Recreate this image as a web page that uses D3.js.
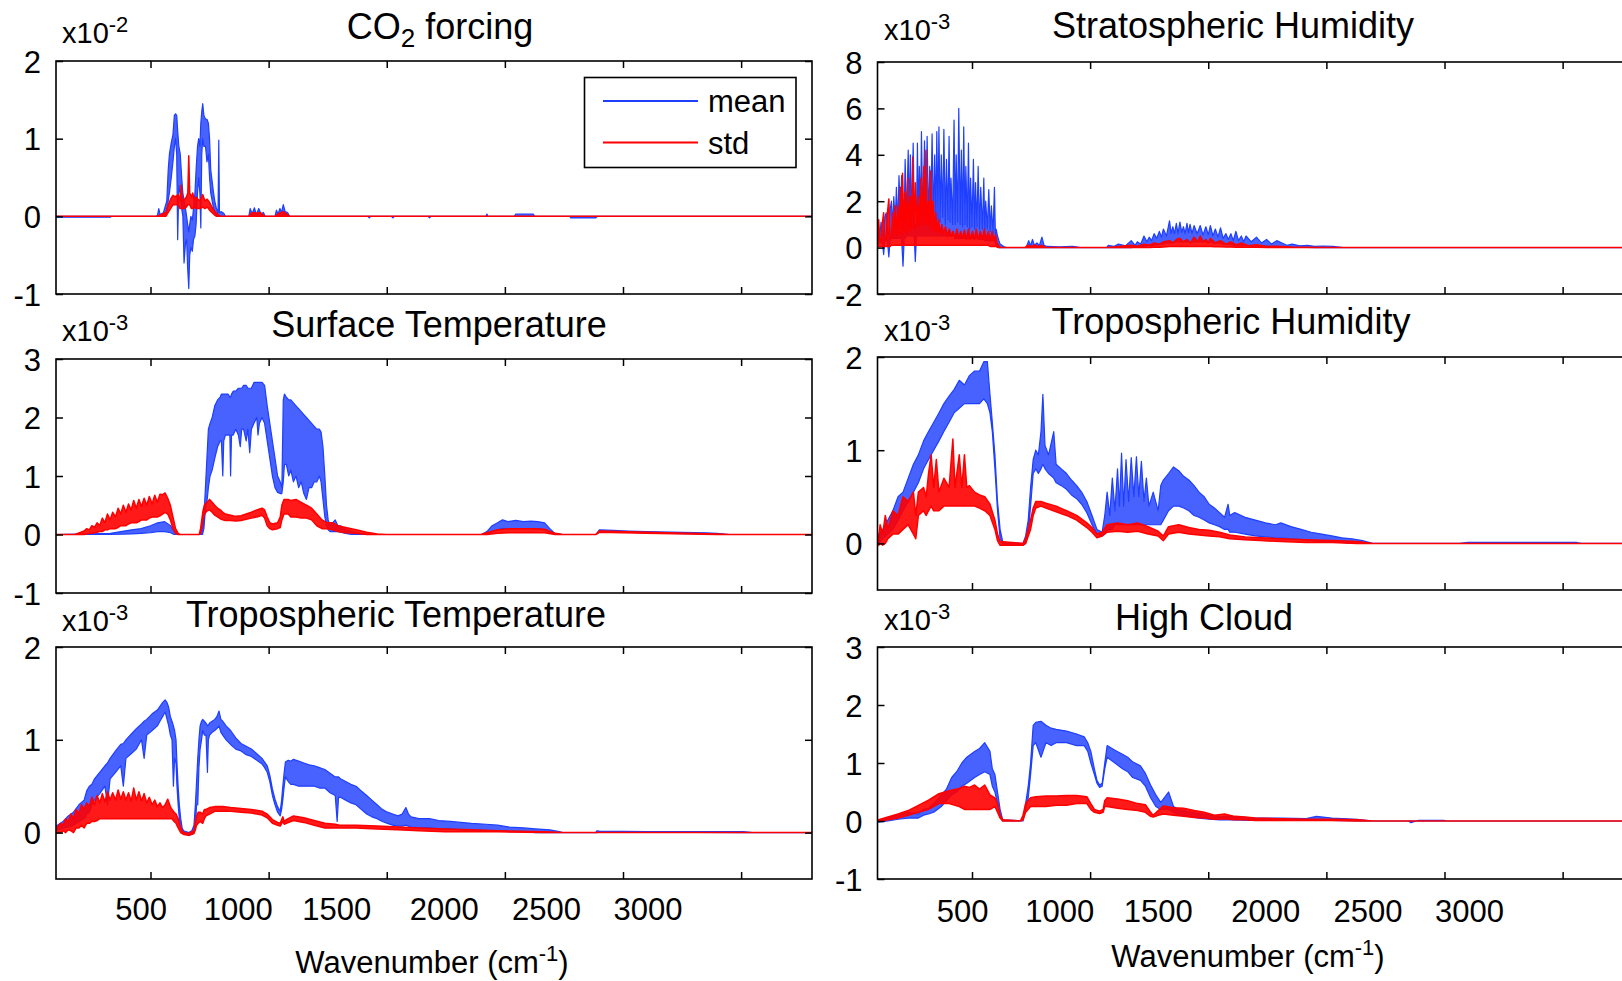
<!DOCTYPE html>
<html><head><meta charset="utf-8">
<script src="https://cdn.jsdelivr.net/npm/d3@7"></script>
<style>
body{margin:0;background:#fff}
svg{display:block}
text{font-family:"Liberation Sans",Arial,Helvetica,sans-serif;fill:#000}
</style>
</head><body>
<svg id="c" width="1622" height="981"></svg>
<script>
// ---------------- DATA ----------------
// x axis (wavenumber, cm-1)
const xDomain = [100, 3300];
const xTickValues = [500, 1000, 1500, 2000, 2500, 3000];
const xTickLabels = ["500", "1000", "1500", "2000", "2500", "3000"];
const xTickLabelPos = [460, 871, 1288, 1743, 2176, 2606]; // where the (offset) labels sit, in cm-1
const legendLabels = ["mean", "std"];
const panelTitles = ["CO_2 forcing", "Surface Temperature", "Tropospheric Temperature",
                     "Stratospheric Humidity", "Tropospheric Humidity", "High Cloud"];
const panelExponents = ["-2", "-3", "-3", "-3", "-3", "-3"];
const yDomains = [[-1, 2], [-1, 3], [-0.5, 2], [-2, 8], [-0.5, 2], [-1, 3]];
const yTicks = [[-1, 0, 1, 2], [-1, 0, 1, 2, 3], [0, 1, 2], [-2, 0, 2, 4, 6, 8], [0, 1, 2], [-1, 0, 1, 2, 3]];

// each series: [wavenumber, low, high] envelope of the dense spectrum (units of the panel exponent)
const co2Mean = [[100,-0.012,0],[330,-0.012,0],[335,0,0],[525,0,0],[530,0,0.02],[535,0,0.1],[541,0,0.02],[555,0,0.05],[569,0.05,0.2],[575,0.2,0.6],[580,0.3,0.8],[588,0.5,0.95],[595,0.7,1.05],[601,0.9,1.3],[606,1.0,1.32],[611,0.8,1.3],[615,-0.3,1.1],[620,0.4,0.9],[626,0.3,0.8],[632,0.1,0.5],[637,0.0,0.3],[642,-0.6,0.2],[648,-0.35,0.1],[653,-0.3,0.0],[657,-0.65,-0.1],[662,-0.93,-0.2],[666,-0.5,-0.1],[671,-0.4,0.0],[677,-0.45,-0.05],[682,-0.3,0.1],[688,-0.25,0.3],[693,-0.1,0.6],[699,0.3,0.9],[704,0.5,1.0],[709,0.3,0.9],[713,-0.15,1.2],[717,0.8,1.35],[721,1.0,1.45],[726,0.9,1.3],[733,0.9,1.25],[739,0.7,1.25],[745,0.8,1.2],[750,0.5,1.0],[755,0.3,0.6],[761,0.2,0.45],[767,0.1,0.3],[772,0.05,0.2],[779,0,0.1],[786,0,0.05],[789,0,0.98],[792,0,0.05],[800,0,0.06],[810,0,0.04],[817,0,0],[916,0,0],[922,0,0.1],[930,0,0.03],[940,0,0.11],[948,0,0.02],[958,0,0.1],[968,0,0.03],[978,0,0.05],[985,0,0],[1027,0,0],[1033,0,0.08],[1040,0,0.03],[1048,0,0.1],[1055,0,0.05],[1062,0,0.15],[1070,0,0.06],[1080,0,0.05],[1089,0,0],[1420,0,0],[1426,-0.02,0],[1432,0,0],[1520,0,0],[1526,-0.02,0],[1532,0,0],[1675,0,0],[1681,-0.02,0],[1687,0,0],[1920,0,0],[1924,0,0.03],[1928,0,0],[2040,0,0],[2046,0,0.03],[2120,0,0.03],[2126,0,0],[2275,0,0],[2279,-0.02,0],[2385,-0.02,0],[2392,0,0],[3300,0,0]];
const co2Std = [[100,0,0],[529,0,0],[550,0,0.03],[565,0,0.05],[575,0.05,0.15],[585,0.1,0.22],[595,0.15,0.27],[605,0.15,0.25],[617,0.15,0.28],[625,0.1,0.2],[630,0.1,0.4],[636,0.1,0.2],[644,0.1,0.22],[652,0.12,0.25],[658,0.15,0.3],[662,0.15,0.78],[666,0.15,0.3],[673,0.1,0.25],[679,0.1,0.3],[686,0.12,0.2],[693,0.1,0.25],[700,0.1,0.22],[710,0.1,0.2],[721,0.12,0.28],[730,0.1,0.2],[740,0.12,0.22],[750,0.08,0.18],[760,0.05,0.12],[770,0.02,0.07],[780,0,0.04],[795,0,0],[916,0,0],[930,0,0.05],[950,0,0.04],[965,0,0.05],[983,0,0],[1027,0,0],[1045,0,0.04],[1062,0,0.06],[1080,0,0.02],[1089,0,0],[3300,0,0]];

const stMean = [[100,0,0],[330,0,0.02],[420,0.01,0.08],[460,0.02,0.1],[500,0.03,0.15],[530,0.05,0.2],[560,0.05,0.22],[585,0.03,0.15],[600,0,0.05],[620,0,0],[713,0,0],[720,0,0.1],[726,0.1,0.3],[730,0.3,0.6],[735,0.5,1.0],[740,0.6,1.4],[745,0.8,1.8],[752,1.0,1.9],[761,1.1,2.0],[772,1.3,2.2],[784,1.5,2.3],[795,1.6,2.35],[800,1.6,2.4],[806,1.0,2.4],[810,1.6,2.4],[817,1.7,2.4],[828,1.7,2.4],[836,1.7,2.35],[839,1.0,2.35],[843,1.7,2.4],[850,1.7,2.45],[861,1.8,2.45],[872,1.7,2.5],[880,1.5,2.5],[886,1.8,2.5],[894,1.8,2.55],[905,1.6,2.55],[912,1.8,2.5],[920,1.4,2.5],[927,1.8,2.5],[938,1.9,2.6],[950,2.0,2.6],[955,1.7,2.6],[961,1.9,2.6],[972,2.0,2.6],[983,1.9,2.55],[994,1.6,2.2],[1005,1.3,1.9],[1016,1.0,1.6],[1027,0.8,1.3],[1038,0.72,1.0],[1049,0.7,0.9],[1056,0.7,0.8],[1062,0.9,2.3],[1067,1.2,2.4],[1075,1.2,2.35],[1085,1.0,2.3],[1094,1.1,2.3],[1105,0.9,2.25],[1116,1.0,2.2],[1127,0.8,2.15],[1138,0.9,2.1],[1149,0.7,2.05],[1160,0.6,2.0],[1171,0.8,1.95],[1182,0.8,1.9],[1193,0.9,1.85],[1204,0.9,1.8],[1215,1.0,1.8],[1222,0.9,1.75],[1230,0.6,1.5],[1238,0.3,1.0],[1245,0.15,0.5],[1252,0.08,0.25],[1260,0.05,0.15],[1271,0.05,0.2],[1282,0.05,0.25],[1293,0.05,0.15],[1304,0.04,0.15],[1326,0.02,0.08],[1350,0,0.05],[1370,0,0.03],[1415,0,0],[1900,0,0],[1924,0,0.05],[1946,0.05,0.15],[1969,0.08,0.2],[1990,0.1,0.25],[2013,0.1,0.22],[2046,0.1,0.24],[2079,0.1,0.22],[2110,0.1,0.23],[2140,0.1,0.22],[2168,0.08,0.2],[2190,0.04,0.1],[2212,0,0.02],[2245,0,0],[2385,0,0],[2400,0.04,0.08],[2460,0.05,0.07],[2522,0.04,0.06],[2600,0.03,0.05],[2700,0.02,0.04],[2850,0.01,0.03],[2899,0,0.02],[2950,0,0],[3300,0,0]];
const stStd = [[100,0,0],[180,0,0],[200,0,0.03],[219,0,0.06],[230,0.01,0.1],[241,0.02,0.08],[252,0.02,0.15],[263,0.03,0.12],[274,0.04,0.2],[285,0.05,0.15],[296,0.05,0.28],[307,0.08,0.2],[318,0.08,0.35],[329,0.1,0.25],[340,0.1,0.38],[352,0.1,0.3],[363,0.12,0.45],[374,0.15,0.35],[385,0.15,0.5],[396,0.15,0.38],[407,0.18,0.52],[418,0.2,0.42],[429,0.2,0.58],[440,0.2,0.45],[451,0.22,0.6],[462,0.25,0.48],[473,0.25,0.62],[484,0.25,0.5],[495,0.28,0.65],[507,0.3,0.52],[518,0.3,0.67],[529,0.3,0.55],[540,0.32,0.69],[551,0.35,0.68],[562,0.38,0.71],[573,0.35,0.62],[584,0.25,0.5],[595,0.1,0.3],[606,0.02,0.1],[617,0,0.02],[625,0,0],[706,0,0],[712,0.02,0.1],[717,0.1,0.25],[722,0.25,0.4],[728,0.35,0.5],[739,0.4,0.55],[750,0.42,0.6],[761,0.38,0.55],[772,0.33,0.5],[784,0.3,0.45],[795,0.27,0.42],[806,0.25,0.38],[817,0.24,0.35],[839,0.24,0.33],[861,0.23,0.31],[883,0.24,0.32],[905,0.26,0.35],[927,0.28,0.38],[950,0.3,0.42],[972,0.33,0.45],[983,0.28,0.42],[994,0.15,0.3],[1005,0.1,0.2],[1016,0.08,0.18],[1038,0.1,0.2],[1049,0.12,0.3],[1056,0.25,0.5],[1065,0.35,0.6],[1083,0.35,0.6],[1094,0.3,0.58],[1116,0.3,0.6],[1138,0.28,0.55],[1160,0.28,0.5],[1182,0.25,0.45],[1204,0.15,0.35],[1226,0.1,0.25],[1249,0.1,0.2],[1271,0.08,0.2],[1293,0.05,0.15],[1326,0.03,0.12],[1370,0.02,0.08],[1415,0,0.04],[1460,0,0.01],[1500,0,0],[1900,0,0],[1924,0,0.03],[1969,0.02,0.08],[2020,0.03,0.1],[2079,0.03,0.1],[2130,0.03,0.1],[2168,0.03,0.09],[2212,0,0.02],[2245,0,0],[2385,0,0],[2400,0.04,0.06],[2600,0.02,0.04],[2899,0,0.01],[2950,0,0],[3300,0,0]];

const ttMean = [[100,0.02,0.07],[130,0.05,0.12],[152,0.06,0.18],[174,0.08,0.22],[197,0.12,0.3],[219,0.15,0.35],[230,0.2,0.45],[241,0.22,0.5],[252,0.3,0.52],[263,0.35,0.58],[285,0.42,0.65],[307,0.5,0.72],[318,0.3,0.75],[329,0.58,0.8],[352,0.65,0.88],[374,0.72,0.95],[385,0.5,0.96],[396,0.8,1.0],[418,0.85,1.06],[440,0.9,1.12],[462,1.0,1.17],[473,0.8,1.2],[484,1.05,1.22],[507,1.1,1.28],[529,1.15,1.32],[540,1.2,1.36],[551,1.25,1.4],[562,1.3,1.43],[570,1.22,1.4],[577,1.15,1.35],[584,1.05,1.25],[591,1.0,1.2],[597,0.5,1.15],[602,0.8,1.1],[608,0.75,1.0],[612,0.5,0.75],[617,0.3,0.5],[622,0.15,0.3],[628,0.05,0.15],[634,0,0.05],[640,-0.01,0.02],[662,-0.03,0.0],[675,-0.02,0.02],[684,0,0.08],[690,0.05,0.3],[695,0.3,0.55],[700,0.3,0.8],[705,0.7,1.0],[710,0.9,1.15],[716,1.0,1.2],[721,1.1,1.22],[728,1.05,1.2],[735,1.05,1.18],[741,0.65,1.15],[745,1.0,1.16],[750,1.05,1.18],[761,1.08,1.2],[772,1.1,1.22],[781,1.12,1.25],[790,1.15,1.31],[798,1.08,1.22],[806,1.05,1.2],[820,1.0,1.15],[839,0.95,1.1],[861,0.9,1.02],[883,0.88,0.96],[905,0.84,0.93],[927,0.82,0.9],[950,0.78,0.85],[972,0.74,0.8],[983,0.7,0.76],[994,0.65,0.72],[1005,0.55,0.62],[1016,0.4,0.47],[1027,0.3,0.36],[1038,0.22,0.28],[1049,0.18,0.23],[1055,0.25,0.35],[1060,0.35,0.5],[1066,0.5,0.65],[1071,0.6,0.76],[1083,0.55,0.78],[1094,0.52,0.77],[1105,0.52,0.79],[1127,0.5,0.77],[1149,0.5,0.75],[1171,0.5,0.73],[1193,0.5,0.72],[1215,0.48,0.7],[1238,0.48,0.68],[1260,0.43,0.64],[1282,0.4,0.6],[1290,0.12,0.6],[1296,0.38,0.6],[1304,0.38,0.58],[1326,0.35,0.55],[1348,0.32,0.52],[1370,0.3,0.5],[1392,0.25,0.45],[1415,0.2,0.4],[1437,0.17,0.35],[1459,0.15,0.3],[1481,0.12,0.25],[1503,0.1,0.22],[1525,0.08,0.2],[1548,0.07,0.18],[1565,0.07,0.2],[1581,0.08,0.27],[1592,0.07,0.2],[1603,0.06,0.17],[1636,0.05,0.15],[1681,0.05,0.15],[1720,0.04,0.13],[1770,0.04,0.12],[1813,0.03,0.11],[1858,0.03,0.1],[1920,0.02,0.09],[1969,0.02,0.08],[2020,0.01,0.06],[2079,0.01,0.05],[2130,0,0.04],[2190,0,0.03],[2230,0,0.01],[2245,0,0],[2385,0,0],[2389,0,0.02],[2400,0.005,0.015],[2600,0.005,0.012],[3010,0,0.01],[3050,0,0],[3300,0,0]];
const ttStd = [[100,0,0.04],[120,0,0.1],[130,0.02,0.08],[141,0,0.15],[152,0.03,0.12],[163,0.02,0.2],[174,0,0.15],[185,0.05,0.25],[197,0.05,0.2],[208,0.08,0.3],[219,0.05,0.25],[230,0.1,0.32],[241,0.1,0.28],[252,0.12,0.38],[263,0.12,0.3],[274,0.13,0.4],[285,0.15,0.32],[296,0.15,0.42],[307,0.15,0.33],[318,0.15,0.44],[329,0.15,0.35],[340,0.15,0.43],[352,0.15,0.35],[363,0.15,0.46],[374,0.15,0.36],[385,0.15,0.44],[396,0.15,0.35],[407,0.15,0.43],[418,0.15,0.34],[429,0.15,0.48],[440,0.15,0.35],[451,0.15,0.44],[462,0.15,0.34],[473,0.15,0.42],[484,0.15,0.32],[495,0.15,0.38],[507,0.15,0.3],[518,0.15,0.35],[529,0.15,0.28],[540,0.15,0.32],[551,0.15,0.27],[562,0.15,0.3],[573,0.15,0.36],[584,0.15,0.28],[591,0.15,0.25],[600,0.12,0.22],[608,0.1,0.2],[617,0.05,0.15],[628,0,0.05],[640,-0.02,0],[662,-0.03,-0.01],[684,-0.01,0.02],[690,0.03,0.12],[695,0.08,0.18],[702,0.1,0.22],[710,0.12,0.22],[721,0.1,0.2],[728,0.15,0.25],[735,0.18,0.25],[750,0.2,0.27],[772,0.23,0.28],[806,0.23,0.28],[839,0.23,0.27],[883,0.22,0.26],[927,0.21,0.25],[972,0.19,0.23],[994,0.16,0.2],[1005,0.13,0.17],[1016,0.1,0.14],[1038,0.08,0.11],[1049,0.07,0.1],[1060,0.12,0.17],[1066,0.09,0.12],[1075,0.1,0.14],[1105,0.13,0.18],[1149,0.11,0.16],[1193,0.08,0.13],[1238,0.05,0.1],[1282,0.05,0.09],[1300,0.05,0.08],[1370,0.05,0.08],[1459,0.04,0.07],[1548,0.03,0.06],[1636,0.02,0.05],[1747,0.01,0.04],[1858,0.01,0.03],[1969,0.01,0.02],[2168,0,0.01],[2245,0,0],[3300,0,0]];

const shMean = [[100,0.3,0.6],[105,0.3,0.8],[110,0.2,0.5],[115,0.3,1.1],[120,0.3,0.6],[126,-0.3,0.5],[131,0.3,1.3],[137,0.3,1.5],[142,0.3,0.7],[148,-0.4,0.6],[153,0.3,1.6],[159,0.4,2.0],[164,0.4,0.9],[169,0.4,2.2],[175,0.4,1.0],[180,0.4,2.6],[186,0.4,1.0],[191,0.4,3.1],[197,0.4,1.2],[202,0.4,3.1],[208,-0.8,0.8],[213,0.4,1.3],[217,0.4,3.8],[223,0.5,1.2],[230,0.5,4.2],[235,0.5,1.3],[239,0.5,4.0],[245,0.5,1.2],[251,0.5,4.5],[256,0.4,1.0],[260,-0.6,0.8],[265,0.5,1.3],[269,0.5,4.5],[273,0.5,1.2],[277,0.5,3.5],[282,0.5,1.4],[286,0.5,5.0],[292,0.5,1.2],[299,0.5,4.6],[305,0.5,1.3],[310,0.5,4.8],[316,0.5,1.1],[321,0.5,3.5],[326,0.5,1.4],[331,0.5,4.9],[337,0.5,1.2],[342,0.5,4.0],[347,0.5,1.3],[351,0.5,5.0],[356,0.5,1.2],[360,0.5,5.2],[365,0.5,1.1],[370,0.5,4.0],[376,0.5,1.3],[381,0.5,5.1],[387,0.5,1.0],[392,0.5,3.8],[398,0.5,1.2],[403,0.5,4.8],[407,0.5,1.1],[411,0.5,3.0],[418,0.5,1.0],[424,0.5,5.5],[429,0.4,1.0],[433,0.4,4.0],[439,0.4,1.1],[444,0.4,6.0],[450,0.4,1.0],[455,0.4,4.2],[460,0.4,0.9],[465,0.4,5.2],[470,0.4,1.0],[474,0.4,3.5],[480,0.4,0.9],[485,0.4,4.5],[490,0.4,0.8],[494,0.4,3.0],[500,0.4,0.9],[506,0.4,3.8],[511,0.4,0.8],[515,0.4,2.8],[521,0.4,0.9],[526,0.4,3.5],[532,0.35,0.8],[537,0.35,2.6],[544,0.35,0.8],[550,0.35,3.0],[554,0.3,0.7],[558,0.3,2.0],[565,0.3,0.8],[571,0.3,2.5],[577,0.3,0.7],[582,0.3,1.8],[589,0.3,0.6],[595,0.3,2.6],[599,0.2,0.5],[602,0.1,0.8],[608,0.05,0.5],[614,0,0.3],[619,0,0.15],[634,0,0.05],[645,0,0],[725,0,0],[731,0,0.05],[740,0,0.3],[748,0,0.08],[756,0,0.35],[764,0,0.1],[775,0,0.2],[785,0,0.08],[796,0,0.45],[805,0,0.1],[818,0,0.05],[870,0,0.03],[926,0,0.05],[960,0,0],[1070,0,0],[1077,0,0.1],[1100,0,0.05],[1120,0,0.15],[1150,0,0.08],[1174,0,0.3],[1190,0.02,0.1],[1200,0.05,0.25],[1214,0.05,0.15],[1228,0.05,0.5],[1240,0.08,0.25],[1250,0.1,0.45],[1260,0.1,0.3],[1271,0.1,0.6],[1282,0.12,0.4],[1293,0.15,0.7],[1302,0.15,0.45],[1310,0.15,0.8],[1323,0.2,0.5],[1336,0.2,1.15],[1343,0.2,0.6],[1350,0.2,0.9],[1357,0.25,0.6],[1365,0.25,1.05],[1372,0.25,0.6],[1380,0.25,1.1],[1388,0.25,0.65],[1395,0.25,0.9],[1402,0.25,0.6],[1410,0.25,1.05],[1416,0.25,0.65],[1423,0.25,1.0],[1431,0.25,0.6],[1440,0.25,0.95],[1453,0.25,0.6],[1466,0.25,0.95],[1478,0.25,0.55],[1490,0.25,0.9],[1500,0.2,0.55],[1509,0.25,0.95],[1520,0.2,0.5],[1530,0.2,0.8],[1541,0.2,0.45],[1552,0.2,0.85],[1563,0.15,0.4],[1575,0.15,0.6],[1585,0.15,0.35],[1596,0.15,0.6],[1606,0.1,0.3],[1617,0.1,0.7],[1628,0.1,0.3],[1640,0.1,0.5],[1650,0.1,0.25],[1660,0.1,0.5],[1682,0.07,0.25],[1704,0.05,0.45],[1725,0.05,0.2],[1747,0.05,0.35],[1768,0.04,0.15],[1790,0.03,0.3],[1812,0.03,0.2],[1833,0.02,0.1],[1855,0.02,0.15],[1888,0.01,0.08],[1920,0.01,0.1],[1950,0,0.05],[1985,0,0.07],[2028,0,0.05],[2071,0,0],[3300,0,0]];
const shStd = [[100,0.05,0.8],[105,0.05,1.2],[110,0.05,0.3],[115,0.05,0.2],[120,0.05,1.0],[126,0.05,1.5],[131,0.05,0.4],[137,0.05,0.3],[142,0.05,1.5],[148,0.05,2.1],[153,0.05,0.5],[159,0.1,0.4],[164,0.1,1.5],[169,0.1,0.6],[175,0.1,1.8],[180,0.1,0.5],[186,0.1,1.8],[191,0.1,0.6],[197,0.1,2.6],[202,0.1,0.5],[206,0.1,3.2],[212,0.1,0.7],[217,0.1,2.4],[222,0.1,0.6],[228,0.1,3.0],[234,0.1,0.7],[239,0.1,2.2],[244,0.1,0.8],[249,0.1,3.9],[255,0.1,0.8],[260,0.1,2.8],[266,0.1,0.9],[272,0.1,2.2],[278,0.1,0.9],[284,0.1,3.0],[290,0.1,1.0],[296,0.1,3.5],[300,0.1,1.0],[305,0.1,4.2],[310,0.1,1.0],[316,0.1,2.0],[320,0.1,0.9],[325,0.1,3.3],[331,0.1,0.8],[336,0.1,2.0],[342,0.1,0.7],[347,0.1,1.5],[352,0.1,0.7],[358,0.1,1.2],[365,0.1,0.6],[372,0.1,1.0],[380,0.1,0.6],[388,0.1,0.9],[396,0.1,0.5],[404,0.1,0.8],[412,0.1,0.5],[420,0.1,0.7],[428,0.1,0.4],[436,0.1,0.8],[444,0.1,0.4],[452,0.1,0.7],[460,0.1,0.4],[468,0.1,0.75],[476,0.1,0.35],[485,0.1,0.8],[493,0.1,0.35],[502,0.1,0.7],[510,0.1,0.35],[518,0.1,0.8],[526,0.1,0.35],[535,0.1,0.7],[543,0.1,0.35],[552,0.1,0.8],[560,0.1,0.35],[569,0.1,0.7],[577,0.05,0.3],[585,0.05,0.7],[593,0.05,0.3],[600,0.05,0.55],[606,0.02,0.2],[612,0,0.1],[619,0,0.02],[630,0,0],[725,0,0],[735,0,0.1],[750,0,0.05],[765,0,0.12],[780,0,0.04],[796,0,0.1],[810,0,0.02],[820,0,0],[1070,0,0],[1100,0,0.03],[1174,0,0.1],[1200,0,0.06],[1228,0,0.15],[1250,0,0.1],[1271,0.02,0.2],[1293,0.02,0.15],[1310,0.03,0.25],[1336,0.05,0.3],[1350,0.05,0.2],[1365,0.05,0.35],[1380,0.05,0.4],[1395,0.05,0.25],[1410,0.05,0.35],[1425,0.05,0.2],[1440,0.05,0.45],[1455,0.05,0.25],[1466,0.05,0.5],[1478,0.05,0.25],[1490,0.05,0.35],[1500,0.05,0.2],[1509,0.05,0.4],[1530,0.04,0.2],[1552,0.04,0.3],[1575,0.03,0.15],[1596,0.03,0.25],[1620,0.02,0.12],[1640,0.02,0.2],[1670,0.01,0.08],[1704,0.01,0.12],[1750,0,0.05],[1790,0,0.06],[1850,0,0.03],[1900,0,0.02],[2000,0,0],[3300,0,0]];

const thMean = [[105,0,0.1],[122,0.05,0.15],[144,0.1,0.25],[165,0.15,0.35],[187,0.25,0.5],[208,0.35,0.55],[230,0.45,0.7],[252,0.55,0.85],[273,0.65,0.95],[295,0.8,1.1],[316,0.9,1.2],[338,1.0,1.3],[360,1.1,1.4],[381,1.2,1.5],[403,1.3,1.58],[424,1.4,1.65],[446,1.45,1.75],[468,1.5,1.7],[489,1.5,1.8],[511,1.5,1.85],[532,1.5,1.85],[550,1.55,1.95],[565,1.5,1.95],[576,1.4,1.6],[586,1.2,1.3],[597,0.8,0.95],[608,0.35,0.45],[619,0.05,0.15],[630,0,0.02],[640,-0.02,0],[716,-0.02,0],[727,0,0.08],[738,0.1,0.25],[748,0.4,0.6],[759,0.75,0.9],[770,0.8,1.0],[781,0.75,0.95],[792,0.8,1.2],[800,0.85,1.6],[809,0.8,1.05],[824,0.75,0.95],[846,0.7,1.2],[856,0.65,0.85],[878,0.62,0.8],[900,0.58,0.75],[921,0.52,0.68],[943,0.48,0.62],[964,0.42,0.55],[986,0.33,0.45],[1008,0.2,0.3],[1029,0.1,0.15],[1051,0.08,0.12],[1062,0.1,0.3],[1072,0.15,0.55],[1083,0.15,0.3],[1094,0.15,0.7],[1105,0.2,0.35],[1116,0.2,0.8],[1124,0.2,0.4],[1133,0.2,0.97],[1142,0.2,0.4],[1152,0.2,0.9],[1163,0.2,0.45],[1174,0.2,0.92],[1185,0.2,0.5],[1196,0.2,0.93],[1206,0.2,0.5],[1217,0.2,0.88],[1228,0.2,0.45],[1238,0.2,0.7],[1249,0.2,0.4],[1267,0.2,0.55],[1288,0.2,0.35],[1299,0.2,0.62],[1310,0.25,0.68],[1332,0.35,0.75],[1353,0.4,0.82],[1375,0.4,0.78],[1396,0.38,0.72],[1418,0.35,0.68],[1440,0.3,0.62],[1461,0.28,0.55],[1483,0.25,0.5],[1504,0.22,0.42],[1526,0.2,0.38],[1548,0.18,0.33],[1569,0.15,0.28],[1584,0.15,0.42],[1591,0.12,0.3],[1612,0.12,0.33],[1656,0.1,0.28],[1699,0.08,0.25],[1742,0.07,0.22],[1785,0.06,0.2],[1807,0.06,0.22],[1850,0.05,0.18],[1893,0.04,0.15],[1936,0.03,0.12],[1980,0.02,0.1],[2023,0.01,0.08],[2066,0.01,0.06],[2109,0,0.05],[2152,0,0.03],[2196,0,0],[2563,0,0],[2600,0,0.01],[3060,0,0.01],[3080,0,0],[3300,0,0]];
const thStd = [[105,-0.02,0.05],[111,0,0.2],[122,-0.02,0.1],[133,0,0.3],[144,0.05,0.15],[165,0.1,0.35],[187,0.1,0.3],[208,0.15,0.5],[230,0.2,0.45],[252,0.1,0.55],[262,0.05,0.3],[273,0.3,0.55],[295,0.35,0.6],[306,0.3,0.5],[316,0.35,0.75],[327,0.4,0.95],[338,0.35,0.6],[349,0.35,0.9],[360,0.35,0.55],[381,0.4,0.7],[403,0.4,0.6],[419,0.4,1.12],[428,0.4,0.6],[446,0.4,0.95],[457,0.4,0.6],[468,0.4,0.95],[478,0.4,0.6],[489,0.4,0.62],[511,0.4,0.55],[532,0.38,0.52],[554,0.35,0.5],[576,0.3,0.42],[597,0.15,0.25],[608,0.03,0.1],[619,-0.02,0.02],[716,-0.02,0],[727,0,0.05],[748,0.15,0.25],[759,0.3,0.38],[770,0.38,0.45],[792,0.4,0.45],[813,0.38,0.43],[856,0.34,0.4],[900,0.3,0.35],[943,0.25,0.3],[986,0.17,0.22],[1008,0.12,0.17],[1029,0.06,0.1],[1051,0.08,0.12],[1072,0.12,0.2],[1116,0.13,0.22],[1159,0.12,0.2],[1202,0.13,0.22],[1245,0.1,0.18],[1288,0.08,0.13],[1310,0.03,0.08],[1332,0.1,0.18],[1375,0.12,0.2],[1418,0.1,0.17],[1461,0.09,0.15],[1504,0.08,0.14],[1548,0.07,0.12],[1591,0.05,0.09],[1656,0.04,0.07],[1720,0.03,0.06],[1807,0.02,0.05],[1915,0.01,0.04],[2023,0.01,0.03],[2131,0,0.02],[2196,0,0],[3300,0,0]];

const hcMean = [[105,-0.02,0.02],[144,0,0.05],[187,0.03,0.1],[230,0.05,0.15],[273,0.05,0.12],[295,0.1,0.2],[316,0.12,0.22],[338,0.15,0.3],[370,0.25,0.45],[392,0.35,0.55],[414,0.45,0.75],[435,0.5,0.85],[457,0.6,1.0],[478,0.65,1.1],[511,0.75,1.2],[532,0.8,1.25],[554,0.85,1.35],[576,0.8,1.2],[586,0.6,0.9],[597,0.5,0.8],[608,0.3,0.5],[619,0.1,0.2],[630,0,0.02],[716,0,0],[727,0.2,0.3],[738,0.4,0.6],[748,0.8,1.0],[759,1.3,1.65],[770,1.35,1.7],[792,1.1,1.72],[813,1.35,1.65],[835,1.3,1.6],[856,1.35,1.58],[900,1.35,1.55],[943,1.3,1.5],[975,1.3,1.45],[990,1.2,1.35],[1003,1.0,1.2],[1018,0.8,0.9],[1029,0.65,0.7],[1040,0.58,0.62],[1051,0.6,0.65],[1062,0.9,1.0],[1072,1.1,1.3],[1105,1.0,1.22],[1137,0.9,1.15],[1159,0.85,1.1],[1180,0.75,1.02],[1213,0.7,0.95],[1234,0.6,0.82],[1256,0.4,0.62],[1278,0.25,0.45],[1299,0.2,0.32],[1332,0.2,0.5],[1353,0.15,0.25],[1375,0.1,0.2],[1418,0.08,0.16],[1461,0.05,0.13],[1504,0.03,0.1],[1548,0.02,0.07],[1591,0.02,0.08],[1699,0.01,0.05],[1807,0.01,0.05],[1915,0.01,0.04],[1958,0.02,0.08],[2023,0.01,0.05],[2131,0,0.03],[2196,0,0],[2347,0,0],[2358,-0.03,0],[2380,0,0],[2390,0,0.01],[2498,0,0.01],[2509,0,0],[3300,0,0]];
const hcStd = [[105,0,0.02],[144,0.02,0.07],[187,0.05,0.12],[230,0.1,0.18],[273,0.15,0.27],[316,0.2,0.36],[360,0.3,0.47],[403,0.3,0.52],[446,0.25,0.56],[468,0.2,0.6],[489,0.2,0.58],[511,0.2,0.62],[532,0.2,0.55],[554,0.2,0.62],[576,0.2,0.45],[597,0.25,0.4],[608,0.15,0.3],[619,0.05,0.1],[630,0,0.02],[705,0,0],[716,0.02,0.1],[727,0.15,0.3],[748,0.25,0.4],[770,0.25,0.42],[813,0.25,0.43],[856,0.27,0.43],[900,0.27,0.44],[943,0.3,0.44],[986,0.3,0.42],[1003,0.2,0.3],[1018,0.15,0.2],[1040,0.13,0.17],[1055,0.15,0.2],[1062,0.25,0.35],[1072,0.25,0.4],[1116,0.22,0.38],[1159,0.2,0.35],[1202,0.18,0.3],[1234,0.15,0.28],[1256,0.08,0.15],[1267,0.07,0.1],[1288,0.1,0.18],[1310,0.12,0.26],[1353,0.1,0.23],[1396,0.08,0.22],[1440,0.06,0.18],[1483,0.05,0.15],[1526,0.03,0.1],[1569,0.04,0.12],[1612,0.02,0.08],[1656,0.02,0.07],[1699,0.01,0.05],[1807,0.01,0.04],[1915,0.01,0.03],[2023,0.01,0.03],[2131,0,0.02],[2196,0,0],[3300,0,0]];

const meanSeries = [co2Mean, stMean, ttMean, shMean, thMean, hcMean];
const stdSeries  = [co2Std, stStd, ttStd, shStd, thStd, hcStd];

// ---------------- LAYOUT ----------------
const BLUE = "#1f3fff", RED = "#ff0000";
const FONT = "'Liberation Sans', Arial, Helvetica, sans-serif";
const plotW = 756;
const layout = [
  {x0:56,    y0:61,  y1:294, tx:440,  ty:39,  ex:62,  ey:43,  legend:true},
  {x0:56,    y0:359, y1:593, tx:439,  ty:337, ex:62,  ey:341},
  {x0:56,    y0:647, y1:879, tx:396,  ty:627, ex:62,  ey:631, xlab:true, lx:432, ly:920, aly:973},
  {x0:877.5, y0:62,  y1:294, tx:1233, ty:38,  ex:884, ey:40},
  {x0:877.5, y0:357, y1:590, tx:1231, ty:334, ex:884, ey:341},
  {x0:877.5, y0:647, y1:879, tx:1204, ty:630, ex:884, ey:630, xlab:true, lx:1248, ly:922, aly:967},
];

const svg = d3.select("#c");
svg.append("rect").attr("width",1622).attr("height",981).attr("fill","#fff");

layout.forEach((L, i) => {
  const x = d3.scaleLinear().domain(xDomain).range([L.x0, L.x0 + plotW]);
  const y = d3.scaleLinear().domain(yDomains[i]).range([L.y1, L.y0]);
  const g = svg.append("g");

  const clipId = "clip" + i;
  g.append("clipPath").attr("id", clipId).append("rect")
    .attr("x", L.x0).attr("y", L.y0).attr("width", plotW).attr("height", L.y1 - L.y0);

  const area = d3.area().x(d => x(d[0])).y0(d => y(d[1])).y1(d => y(d[2]));
  const dg = g.append("g").attr("clip-path", `url(#${clipId})`);
  dg.append("path").datum(meanSeries[i]).attr("d", area)
    .attr("fill", BLUE).attr("fill-opacity", 0.82)
    .attr("stroke", BLUE).attr("stroke-width", 1.2).attr("stroke-linejoin", "round");
  dg.append("path").datum(stdSeries[i]).attr("d", area)
    .attr("fill", RED).attr("fill-opacity", 0.9)
    .attr("stroke", RED).attr("stroke-width", 1.5).attr("stroke-linejoin", "round");

  // axes (tick marks inward on all four sides)
  const styleAxis = sel => {
    sel.select(".domain").remove();
    sel.selectAll(".tick line").attr("stroke", "#000").attr("stroke-width", 1.5);
    sel.selectAll("text").attr("font-family", FONT).attr("font-size", 31).attr("fill", "#000");
  };
  g.append("g").attr("transform", `translate(${L.x0},0)`)
    .call(d3.axisLeft(y).tickValues(yTicks[i]).tickSize(-7).tickSizeOuter(0).tickPadding(15).tickFormat(d => String(d)))
    .call(styleAxis);
  g.append("g").attr("transform", `translate(${L.x0 + plotW},0)`)
    .call(d3.axisRight(y).tickValues(yTicks[i]).tickSize(-7).tickSizeOuter(0).tickFormat(""))
    .call(styleAxis);
  g.append("g").attr("transform", `translate(0,${L.y1})`)
    .call(d3.axisBottom(x).tickValues(xTickValues).tickSize(-7).tickSizeOuter(0).tickFormat(""))
    .call(styleAxis);
  g.append("g").attr("transform", `translate(0,${L.y0})`)
    .call(d3.axisTop(x).tickValues(xTickValues).tickSize(-7).tickSizeOuter(0).tickFormat(""))
    .call(styleAxis);
  g.selectAll("g text").attr("dy", "0.36em");

  // box
  g.append("rect").attr("x", L.x0).attr("y", L.y0).attr("width", plotW).attr("height", L.y1 - L.y0)
    .attr("fill", "none").attr("stroke", "#000").attr("stroke-width", 1.6);

  // title (with subscript support "_X")
  const t = g.append("text").attr("x", L.tx).attr("y", L.ty).attr("text-anchor", "middle")
    .attr("font-family", FONT).attr("font-size", 36);
  const parts = panelTitles[i].split(/_(\w)/);
  parts.forEach((p, k) => {
    if (k % 2 === 1) t.append("tspan").attr("font-size", 26).attr("dy", 8).text(p);
    else if (k > 0) t.append("tspan").attr("dy", -8).text(p);
    else t.append("tspan").text(p);
  });

  // exponent label
  const e = g.append("text").attr("x", L.ex).attr("y", L.ey).attr("font-family", FONT).attr("font-size", 29);
  e.append("tspan").text("x10");
  e.append("tspan").attr("font-size", 22).attr("dy", -11).text(panelExponents[i]);

  // x tick labels + axis label on bottom row
  if (L.xlab) {
    g.selectAll(".xl").data(xTickLabels).enter().append("text")
      .attr("x", (d, k) => x(xTickLabelPos[k])).attr("y", L.ly)
      .attr("text-anchor", "middle").attr("font-family", FONT).attr("font-size", 31).text(d => d);
    const a = g.append("text").attr("x", L.lx).attr("y", L.aly).attr("text-anchor", "middle")
      .attr("font-family", FONT).attr("font-size", 31);
    a.append("tspan").text("Wavenumber (cm");
    a.append("tspan").attr("font-size", 22).attr("dy", -12).text("-1");
    a.append("tspan").attr("dy", 12).text(")");
  }

  // legend
  if (L.legend) {
    const lg = g.append("g");
    lg.append("rect").attr("x", 584.5).attr("y", 77.5).attr("width", 211.5).attr("height", 90)
      .attr("fill", "#fff").attr("stroke", "#000").attr("stroke-width", 1.6);
    const colors = [BLUE, RED];
    legendLabels.forEach((lab, k) => {
      const yy = 101 + k * 41.5;
      lg.append("line").attr("x1", 603).attr("x2", 698).attr("y1", yy).attr("y2", yy)
        .attr("stroke", colors[k]).attr("stroke-width", 2);
      lg.append("text").attr("x", 708).attr("y", yy + 11).attr("font-family", FONT)
        .attr("font-size", 31).text(lab);
    });
  }
});
</script>
</body></html>
